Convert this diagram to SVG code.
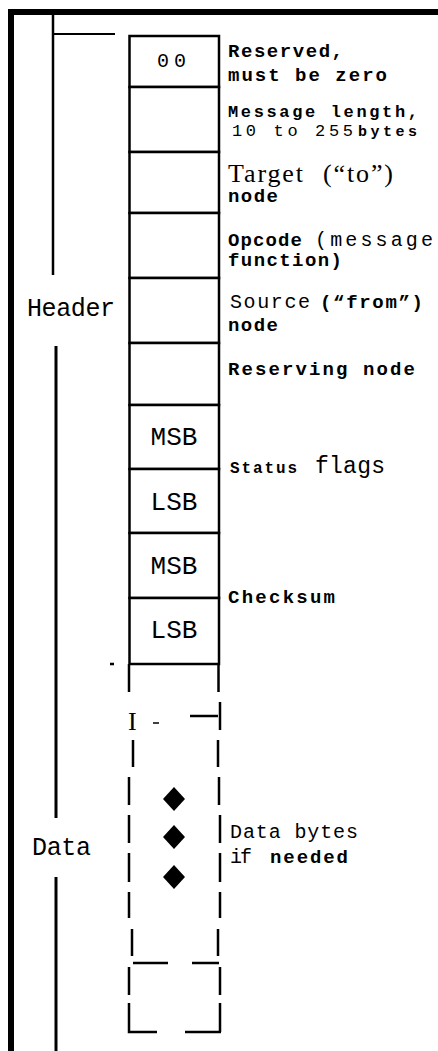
<svg xmlns="http://www.w3.org/2000/svg" width="438" height="1051" viewBox="0 0 438 1051">
<style>
.bx{fill:#fff;stroke:#000;stroke-width:2.5}
.ln{stroke:#000;stroke-width:2.5;fill:none}
.m{font-family:"Liberation Mono",monospace;fill:#000}
.b{font-family:"Liberation Mono",monospace;font-weight:bold;fill:#000}
.s{font-family:"Liberation Serif",serif;fill:#000}
.in{font-size:26px;text-anchor:middle}
</style>
<defs>
<polygon id="dia" points="0,-12 11,0 0,12 -11,0" fill="#000"/>
</defs>
<rect width="438" height="1051" fill="#fff"/>
<g id="frame">
<rect x="8" y="9" width="6" height="1042" fill="#000"/>
<rect x="8" y="9" width="430" height="6" fill="#000"/>
<line class="ln" x1="53" y1="15" x2="53" y2="275"/>
<line class="ln" x1="52" y1="34" x2="115" y2="34" style="stroke-width:2"/>
<line class="ln" x1="56" y1="346" x2="56" y2="818" style="stroke-width:3"/>
<line class="ln" x1="56" y1="877" x2="56" y2="1051" style="stroke-width:3"/>
<text class="m" x="27" y="316" font-size="25" textLength="88">Header</text>
<text class="m" x="32" y="855" font-size="25" textLength="59">Data</text>
</g>
<g id="reserved">
<rect class="bx" x="129.5" y="36" width="89.5" height="51"/>
<text class="m" x="174" y="67" font-size="20" text-anchor="middle" letter-spacing="5">00</text>
<text class="b" x="228" y="57" font-size="19" textLength="115">Reserved,</text>
<text class="b" x="228" y="81" font-size="19" textLength="159">must be zero</text>
</g>
<g id="length">
<rect class="bx" x="129.5" y="87" width="89.5" height="65"/>
<text class="b" x="228" y="117" font-size="17" textLength="190">Message length,</text>
<text class="m" x="232" y="136" font-size="17" textLength="121">10 to 255</text>
<text class="b" x="358" y="136" font-size="15" textLength="59">bytes</text>
</g>
<g id="target">
<rect class="bx" x="129.5" y="152" width="89.5" height="61"/>
<text class="s" x="228" y="182" font-size="26" textLength="75">Target</text>
<text class="s" x="323" y="182" font-size="26" textLength="70">(“to”)</text>
<text class="b" x="228" y="202" font-size="19" textLength="50">node</text>
</g>
<g id="opcode">
<rect class="bx" x="129.5" y="213" width="89.5" height="65"/>
<text class="b" x="228" y="246" font-size="19" textLength="74">Opcode</text>
<text class="m" x="315" y="246" font-size="20" textLength="118">(message</text>
<text class="b" x="228" y="266" font-size="19" textLength="114">function)</text>
</g>
<g id="source">
<rect class="bx" x="129.5" y="278" width="89.5" height="65"/>
<text class="m" x="230" y="308" font-size="20" textLength="80">Source</text>
<text class="b" x="320" y="308" font-size="19" textLength="103">(“from”)</text>
<text class="b" x="228" y="331" font-size="19" textLength="50">node</text>
</g>
<g id="reserving">
<rect class="bx" x="129.5" y="343" width="89.5" height="62"/>
<text class="b" x="228" y="375" font-size="19" textLength="187">Reserving node</text>
</g>
<g id="status">
<rect class="bx" x="129.5" y="405" width="89.5" height="64"/>
<text class="m in" x="174" y="445">MSB</text>
<rect class="bx" x="129.5" y="469" width="89.5" height="64"/>
<text class="m in" x="174" y="510">LSB</text>
<text class="b" x="230" y="473" font-size="16" textLength="67">Status</text>
<text class="m" x="315" y="473" font-size="23" textLength="70">flags</text>
</g>
<g id="checksum">
<rect class="bx" x="129.5" y="533" width="89.5" height="65"/>
<text class="m in" x="174" y="574">MSB</text>
<rect class="bx" x="129.5" y="598" width="89.5" height="66"/>
<text class="m in" x="174" y="638">LSB</text>
<text class="b" x="228" y="603" font-size="19" textLength="107">Checksum</text>
</g>
<g id="data">
<line class="ln" x1="110" y1="664" x2="114" y2="664"/>
<line class="ln" x1="129" y1="664" x2="129" y2="692"/>
<line class="ln" x1="218.5" y1="664" x2="218.5" y2="692"/>
<text class="s" x="128" y="730" font-size="26">I</text>
<line class="ln" x1="153" y1="723" x2="159" y2="723" style="stroke-width:1.5"/>
<line class="ln" x1="190" y1="716" x2="218" y2="716"/>
<line class="ln" x1="220" y1="702" x2="220" y2="730"/>
<path class="ln" d="M133,740V767M218,740V767M129,777V805M219,777V805M129,815V843M220,815V843M129,853V882M220,853V882M129,892V918M220,892V918M132,929V956M218,929V956M133,963H168M192,963H219M129,967V995M220,967V995M129,1003V1032H157M185,1032H221M220,1003V1032"/>
<use href="#dia" x="174" y="799"/>
<use href="#dia" x="174" y="837"/>
<use href="#dia" x="174" y="877"/>
<text class="m" x="230" y="838" font-size="20" textLength="128">Data bytes</text>
<text class="m" x="230" y="863" font-size="20" textLength="22">if</text>
<text class="b" x="270" y="863" font-size="19" textLength="78">needed</text>
</g>
<g id="connectors"></g>
</svg>
